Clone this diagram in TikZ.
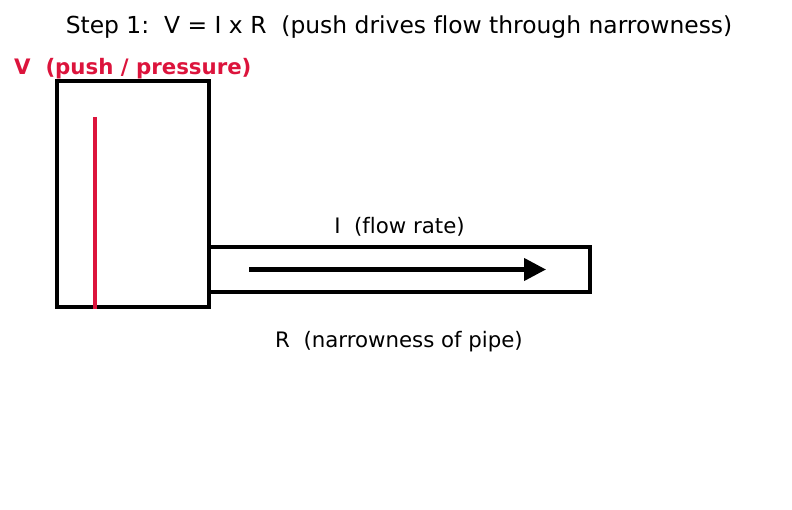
\documentclass[tikz,border=0pt]{standalone}
\usepackage{fontspec}
\setmainfont[Ligatures=NoCommon]{DejaVu Sans}
\usepackage{tikz}
\usetikzlibrary{arrows.meta, positioning}
\definecolor{pushred}{RGB}{220,20,60}

\begin{document}
\begin{tikzpicture}[x=1pt, y=-1pt, thickline/.style={line width=4.3pt}, label text/.style={font=\fontsize{21.3}{25}\selectfont}]
            \useasboundingbox (0,0) rectangle (792,510);
            \node[font=\fontsize{23.4}{28}\selectfont] (title) at (399,27.5) {Step 1:\ \ V = I x R\ \ (push drives flow through narrowness)};
            \node[anchor=west, text=pushred, font=\fontsize{21.3}{25}\selectfont\bfseries, inner sep=0pt] (vlabel) at (14,69) {V\ \ (push / pressure)};

            \node[draw, thickline, minimum width=381pt, minimum height=45pt, inner sep=0pt] (pipe) at (399.5,269.5) {};
            \node[draw, thickline, minimum width=152pt, minimum height=226pt, inner sep=0pt] (tank) at (133,194) {};

            \coordinate (vtop) at (95,117);
            \coordinate (vbot) at (95,309);
            \draw[line width=4.5pt, pushred] (vtop) -- (vbot);

            \coordinate (flowstart) at (249,269.5);
            \coordinate (flowend) at (546,269.5);
            \draw[thickline, -{Triangle[length=22pt, width=22pt]}] (flowstart) -- (flowend);

            \node[label text] (ilabel) [above = 5.5pt of pipe.north] {I\ \ (flow rate)};
            \node[label text] (rlabel) at (399,341.5) {R\ \ (narrowness of pipe)};
        \end{tikzpicture}
\end{document}
